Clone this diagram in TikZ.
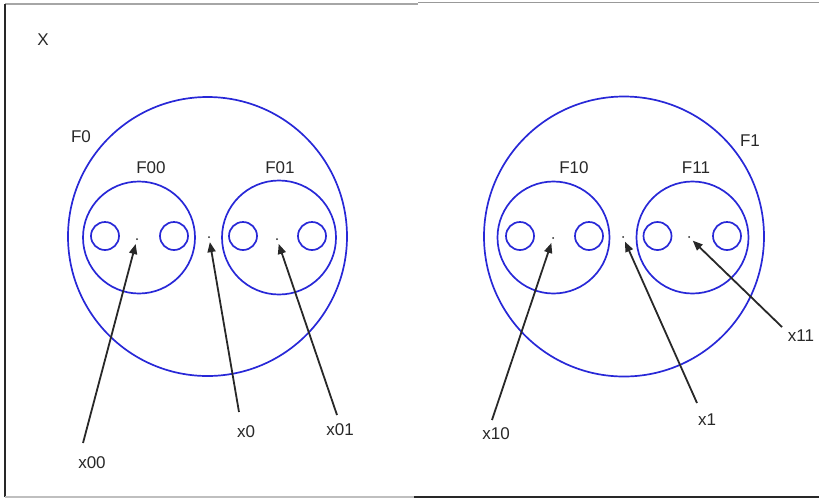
\documentclass[tikz,border=0pt]{standalone}
\usepackage{fontspec}
\setmainfont{Liberation Sans}
\usetikzlibrary{arrows.meta}
\definecolor{ringblue}{RGB}{40,40,215}
\definecolor{inkgray}{RGB}{40,40,40}
\tikzset{
  ring/.style={draw=ringblue, line width=1.7pt, circle, inner sep=0pt, minimum size=#1},
  lbl/.style={font=\fontsize{17}{20}\selectfont, text=inkgray, inner sep=0pt},
  pointer/.style={draw=inkgray, line width=1.8pt, shorten >=4pt, -{Triangle[length=10pt,width=8pt]}},
  dot/.style={fill=inkgray, circle, inner sep=0pt, minimum size=2pt},
}
\begin{document}
\begin{tikzpicture}[x=1pt,y=-1pt]
\useasboundingbox (0,0) rectangle (819,499);
% frame
\draw[gray!70, line width=1.4pt] (5,4) -- (418,4);
\draw[gray!80, line width=1.4pt] (418,2.5) -- (819,2.5);
\draw[inkgray, line width=1.8pt] (5,4) -- (5,497);
\draw[gray!50, line width=1.4pt] (5,497) -- (414,497);
\draw[inkgray, line width=2.2pt] (414,497) -- (819,497);
\node[lbl] (X) at (43,40) {X};

% left family F0
\node[ring=279pt] (F0) at (207.5,236.5) {};
\node[ring=112pt] (F00) at (139,237.5) {};
\node[ring=114pt] (F01) at (279,237.5) {};
\node[ring=28pt] (F00a) at (105,236) {};
\node[ring=28pt] (F00b) at (174,236) {};
\node[ring=28pt] (F01a) at (243,236) {};
\node[ring=28pt] (F01b) at (312,236) {};
\node[dot] (p00) at (137,239) {};
\node[dot] (p0) at (209,237) {};
\node[dot] (p01) at (277,239) {};
\node[lbl] at (81,137) {F0};
\node[lbl] at (151,168) {F00};
\node[lbl] at (280,168) {F01};

% right family F1
\node[ring=280pt] (F1) at (624,236.5) {};
\node[ring=112pt] (F10) at (553.5,237.5) {};
\node[ring=112pt] (F11) at (692.5,237.5) {};
\node[ring=28pt] (F10a) at (520,236) {};
\node[ring=28pt] (F10b) at (589,236) {};
\node[ring=28pt] (F11a) at (657.5,236) {};
\node[ring=28pt] (F11b) at (727,236) {};
\node[dot] (p10) at (553,238) {};
\node[dot] (p1) at (623,237) {};
\node[dot] (p11) at (689,237) {};
\node[lbl] at (750,141) {F1};
\node[lbl] at (574,168) {F10};
\node[lbl] at (696,168) {F11};

% point labels and their pointer tails
\node[lbl] (x00) at (92,463) {x00};
\node[lbl] (x0) at (246,432) {x0};
\node[lbl] (x01) at (340,430) {x01};
\node[lbl] (x10) at (496,434) {x10};
\node[lbl] (x1) at (707,420) {x1};
\node[lbl] (x11) at (801,336) {x11};
\coordinate (t00) at (83,443);
\coordinate (t0) at (239,412);
\coordinate (t01) at (337,415);
\coordinate (t10) at (492,420);
\coordinate (t1) at (697,403);
\coordinate (t11) at (782,327);

\draw[pointer] (t00) -- (p00);
\draw[pointer] (t0) -- (p0);
\draw[pointer] (t01) -- (p01);
\draw[pointer] (t10) -- (p10);
\draw[pointer] (t1) -- (p1);
\draw[pointer] (t11) -- (p11);
\end{tikzpicture}
\end{document}
